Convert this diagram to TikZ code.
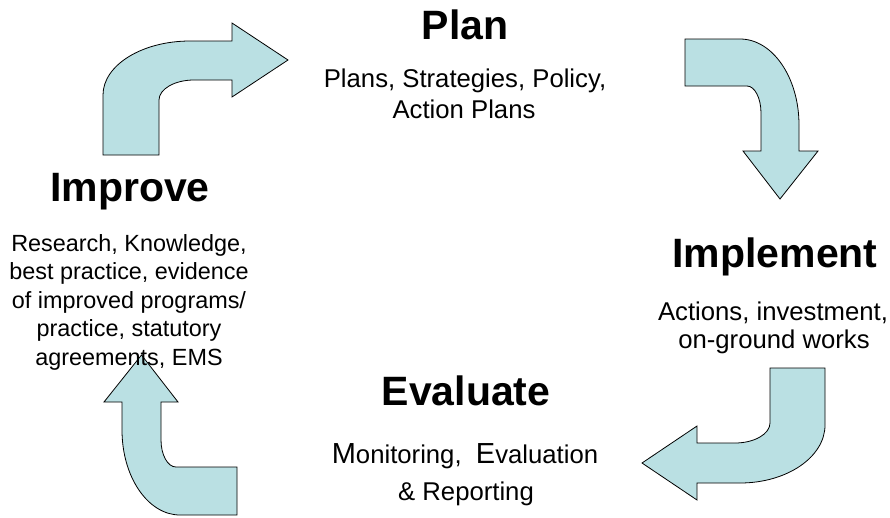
\documentclass[tikz,border=0pt]{standalone}
\usepackage{fontspec}
\setmainfont{Liberation Sans}
\definecolor{arrowfill}{RGB}{186,224,227}
\begin{document}
\begin{tikzpicture}[x=1pt,y=-1pt,
  bentarrow/.style={draw=black,line width=0.8pt,fill=arrowfill,line join=miter},
  title/.style={anchor=base,inner sep=0pt,font=\fontsize{41}{49}\selectfont\bfseries},
  body/.style={anchor=base,inner sep=0pt,font=\fontsize{25.7}{30}\selectfont},
  smallbody/.style={anchor=base,inner sep=0pt,font=\fontsize{23.4}{28}\selectfont}]
\useasboundingbox (0,0) rectangle (890,517);

% upper-left bent arrow, pointing right towards Plan
\draw[bentarrow] (103,155) -- (103,95)
  .. controls (103,65.2) and (142,41) .. (190,41)
  -- (232,41) -- (232,23) -- (288,60) -- (232,97) -- (232,80) -- (194,80)
  .. controls (174.7,80) and (159,89) .. (159,100)
  -- (159,155) -- cycle;

% upper-right bent arrow, pointing down towards Implement
\draw[bentarrow] (685,39) -- (740,39)
  .. controls (772.6,39) and (799,77.5) .. (799,125)
  -- (799,151) -- (818,151) -- (780,199) -- (743,151) -- (761,151) -- (761,113)
  .. controls (761,98.1) and (754.7,86) .. (747,86)
  -- (685,86) -- cycle;

% lower-right bent arrow, pointing left towards Evaluate
\draw[bentarrow] (825,368) -- (825,425)
  .. controls (825,457) and (787,483) .. (740,483)
  -- (697,483) -- (697,500) -- (642,463) -- (697,426) -- (697,443) -- (735,443)
  .. controls (754.3,443) and (770,434) .. (770,423)
  -- (770,368) -- cycle;

% lower-left bent arrow, pointing up towards Improve
\draw[bentarrow] (237,515) -- (180,515)
  .. controls (148,515) and (122,477) .. (122,430)
  -- (122,402) -- (104,402) -- (141.5,355) -- (178,402) -- (161,402) -- (161,440)
  .. controls (161,454.9) and (167.7,467) .. (176,467)
  -- (237,467) -- cycle;

% Plan
\node[title] (plan) at (465,39.5) {Plan};
\node[body] (plan-a) at (465,87) {Plans, Strategies, Policy,};
\node[body] (plan-b) at (464,118) {Action Plans};

% Implement
\node[title] (implement) at (775,267) {Implement};
\node[body] (implement-a) at (773,320) {Actions, investment,};
\node[body] (implement-b) at (774,348) {on-ground works};

% Evaluate
\node[title] (evaluate) at (466,405) {Evaluate};
\node[body] (evaluate-a) at (465,463.5) {{\fontsize{29}{30}\selectfont M}onitoring,\ \ {\fontsize{29}{30}\selectfont E}valuation};
\node[body] (evaluate-b) at (466,500.5) {\& Reporting};

% Improve
\node[title] (improve) at (130,201.5) {Improve};
\node[smallbody] (improve-a) at (129,251) {Research, Knowledge,};
\node[smallbody] (improve-b) at (129,279.5) {best practice, evidence};
\node[smallbody] (improve-c) at (129,308) {of improved programs/};
\node[smallbody] (improve-d) at (129,336.5) {practice, statutory};
\node[smallbody] (improve-e) at (129,365) {agreements, EMS};
\end{tikzpicture}
\end{document}
